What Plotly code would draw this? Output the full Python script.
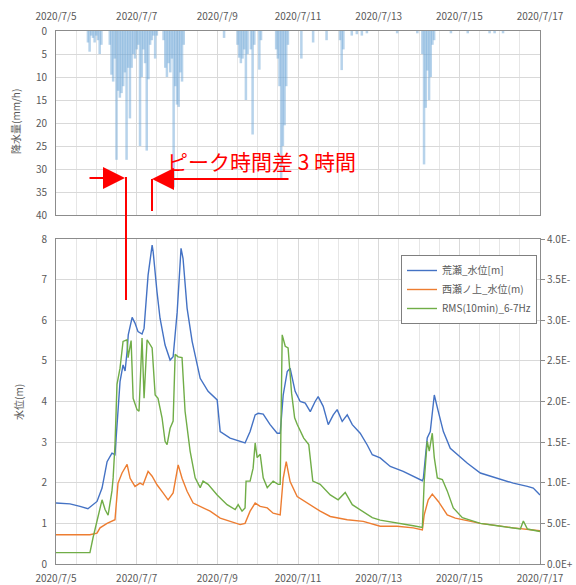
import pandas as pd
import plotly.graph_objects as go

# ---------------- data ----------------
start = "2020-07-05"
x_tick_dates = ["2020-07-05", "2020-07-07", "2020-07-09", "2020-07-11",
                "2020-07-13", "2020-07-15", "2020-07-17"]
x_tick_text = ["2020/7/5", "2020/7/7", "2020/7/9", "2020/7/11",
               "2020/7/13", "2020/7/15", "2020/7/17"]

# hourly rainfall (hours since 2020/7/5 0:00, mm/h)
rain_hours = [19, 20, 21, 22, 23, 24, 25, 26, 27,
              32, 33, 34, 35, 36, 37, 38, 39, 40, 41, 42, 43, 44, 45, 46, 47, 48,
              49, 50, 51, 52, 53, 54, 55, 56, 57, 58, 59, 60,
              64, 65, 66, 67, 68, 69, 70, 71, 72, 73, 74, 75, 76,
              100,
              108, 109, 110, 111, 112, 113, 114, 116, 117, 118, 121, 122,
              131, 132, 133, 134, 135, 136, 137, 138,
              146, 153, 161, 169, 170, 171, 176, 179, 182, 185,
              203, 215,
              218, 219, 220, 221, 222, 223, 224, 225,
              235, 245, 258, 261, 266]
rain_mm = [2.5, 4.5, 1.0, 1.5, 2.5, 1.0, 2.0, 5.0, 3.0,
           3.0, 9.5, 11.0, 6.0, 28.0, 13.0, 14.5, 13.5, 12.0, 9.0, 28.0, 8.0, 19.0, 8.0, 5.0, 6.0, 4.0,
           3.0, 25.0, 10.0, 4.0, 7.0, 26.0, 10.5, 3.0, 2.0, 1.0, 6.0, 1.0,
           2.0, 8.0, 10.0, 7.0, 9.0, 6.0, 34.0, 12.0, 16.0, 16.5, 9.0, 11.0, 3.0,
           1.5,
           3.0, 5.8, 7.0, 6.0, 4.0, 15.0, 5.0, 4.0, 22.5, 3.0, 8.4, 2.0,
           4.0, 6.0, 12.0, 32.0, 25.0, 20.5, 12.0, 3.0,
           6.0, 2.5, 2.0, 2.0, 8.5, 4.0, 1.0, 0.7, 1.0, 0.5,
           0.5, 0.5,
           5.0, 29.0, 16.7, 8.6, 15.0, 10.0, 3.0, 2.0,
           0.5, 0.5, 0.5, 0.5, 0.5]

# 荒瀬 water level [m]
arase_hours = [0, 8.3, 14.3, 19, 24.4, 27.4, 30.4, 33.3, 35.1, 36.3, 38.1, 39.9, 41.1,
               42.3, 43, 45.3, 47, 48.8, 51.2, 52.4, 54.8, 57.2, 57.8, 60.1, 61.9,
               64.9, 67.9, 69.7, 72.1, 74.4, 75.6, 78, 81, 85.8, 90.5, 95.9, 97.7,
               103.6, 109.6, 112.5, 115.5, 118.5, 120.3, 123.3, 127.4, 131.6, 133.4,
               135.2, 137.6, 139.3, 142.3, 145.3, 148.3, 151.3, 154.2, 156, 159, 162,
               165, 167.3, 170.3, 173.3, 176.3, 181, 185.2, 188.2, 192.9, 198.9,
               206.6, 212.6, 218, 218.6, 220.9, 222.7, 223.9, 225.1, 227.5, 230.5,
               234.6, 238.8, 244.8, 252.5, 262.6, 272.1, 280.5, 284, 288]
arase_level = [1.50, 1.48, 1.42, 1.36, 1.54, 1.87, 2.52, 2.73, 2.69, 3.43, 4.49, 4.90, 4.75,
               5.23, 5.64, 6.07, 5.93, 5.72, 5.66, 5.80, 7.11, 7.85, 7.69, 6.70, 6.05,
               5.39, 5.02, 5.10, 6.20, 7.77, 7.52, 6.30, 5.48, 4.57, 4.25, 4.04, 3.26,
               3.10, 3.02, 2.98, 3.26, 3.67, 3.71, 3.69, 3.43, 3.22, 3.22,
               4.16, 4.74, 4.82, 4.25, 4.00, 3.96, 3.75, 4.00, 4.12, 3.88, 3.43,
               3.67, 3.80, 3.51, 3.67, 3.43, 3.22, 2.93, 2.69, 2.61, 2.40,
               2.28, 2.16, 2.05, 2.11, 3.10, 3.26, 3.75, 4.16, 3.75, 3.26,
               2.85, 2.69, 2.48, 2.24, 2.11, 1.99, 1.91, 1.87, 1.70]

# 西瀬ノ上 water level [m]
nishise_hours = [0, 20.2, 24.4, 26.2, 30.4, 35.1, 36.9, 39.3, 42.3, 44.1, 47, 50, 51.8,
                 54.8, 57.2, 60.1, 63.7, 66.7, 69.7, 72.7, 75, 78, 81.6, 85.8, 91.7,
                 97.7, 103.6, 109.6, 112.5, 115.5, 118.5, 121.5, 125.7, 129.2, 133.4,
                 135.2, 137, 139.3, 143.5, 151.3, 157.2, 163.2, 173.3, 182.8, 192.9,
                 203, 212.6, 218, 219.1, 221.5, 223.9, 227.5, 232.8, 237.6, 252.5,
                 272.1, 288]
nishise_level = [0.72, 0.72, 0.76, 0.89, 1.00, 1.09, 1.99, 2.24, 2.45, 2.11, 1.91, 1.99, 1.95,
                 2.28, 2.16, 1.95, 1.75, 1.58, 1.75, 2.44, 2.11, 1.79, 1.50, 1.42, 1.30,
                 1.13, 1.05, 0.97, 1.00, 1.30, 1.50, 1.42, 1.38, 1.25, 1.21,
                 2.11, 2.52, 2.03, 1.66, 1.46, 1.30, 1.17, 1.09, 1.05, 0.93,
                 0.93, 0.89, 0.84, 1.21, 1.58, 1.72, 1.54, 1.21, 1.13, 1.00,
                 0.89, 0.82]

# RMS(10min)_6-7Hz (right axis, x1e-5)
rms_hours = [0, 20.2, 22, 25, 27.4, 29.2, 31, 33.3, 34, 35.1, 36.3, 38.1, 39.9, 42.3, 42.9,
             44.7, 45.9, 48.2, 49.4, 51.2, 52.4, 54.2, 57.2, 59, 60.7, 63.1, 64.9, 66.1,
             67.9, 69.7, 70.9, 72.7, 75, 76.8, 79.8, 82.8, 85.8, 87.5, 90.5, 95.9, 101.8,
             106.6, 108.4, 110.7, 112.5, 113.1, 115.5, 117.3, 118.5, 119.7, 121.5, 123.3,
             125.7, 129.2, 132.2, 133.4, 134.6, 136.4, 138.1, 140.2, 142.0, 143.5, 147.4,
             150.4, 152.8, 157.2, 163.2, 167.9, 172.1, 176.3, 182.3, 188.2, 192.9, 203,
             212.6, 218, 219.1, 220.9, 222.1, 223.9, 225.1, 226.9, 229.9, 232.8, 236.4,
             241.8, 252.5, 262.6, 276.3, 278.1, 280.5, 288]
rms_e5 = [0.14, 0.14, 0.32, 0.60, 0.79, 0.67, 0.60, 0.90, 1.06, 1.47, 2.21, 2.41, 2.74, 2.76, 2.54,
          2.75, 2.04, 1.90, 1.88, 2.78, 2.04, 2.76, 2.66, 2.08, 2.04, 1.80, 1.51, 1.47,
          1.67, 1.76, 2.58, 2.55, 2.54, 1.88, 1.39, 1.06, 0.94, 1.02, 0.98, 0.85, 0.73,
          0.67, 0.73, 0.65, 0.69, 1.02, 1.02, 1.18, 1.49, 1.31, 1.35, 1.06,
          0.94, 1.02, 0.98, 0.98, 2.82, 2.68, 2.66, 2.10, 1.80, 1.72, 1.55,
          1.47, 1.02, 0.98, 0.85, 0.79, 0.88, 0.73, 0.65, 0.57, 0.54, 0.50,
          0.47, 0.45, 1.02, 1.51, 1.39, 1.61, 1.31, 1.06, 1.04, 0.90, 0.69,
          0.57, 0.50, 0.47, 0.43, 0.53, 0.43, 0.40]

# right-axis tick labels as they appear (cut at the image edge in the original)
y2_tick_vals = [0, 0.5, 1.0, 1.5, 2.0, 2.5, 3.0, 3.5, 4.0]
y2_tick_text = ["0.0E+", "5.0E-", "1.0E-", "1.5E-", "2.0E-",
                "2.5E-", "3.0E-", "3.5E-", "4.0E-"]

series_names = ["荒瀬_水位[m]", "西瀬ノ上_水位(m)", "RMS(10min)_6-7Hz"]
series_colors = ["#4472C4", "#ED7D31", "#70AD47"]


def to_time(hours):
    return pd.Timestamp(start) + pd.to_timedelta(hours, unit="h")


# ---------------- figure ----------------
W, H = 576, 585
FONT = "Noto Sans CJK JP"
GRID = "#d9d9d9"
AXC = "#8c8c8c"
TXT = "#595959"

fig = go.Figure()

fig.add_trace(go.Bar(
    x=to_time(rain_hours), y=rain_mm, width=1.5 * 3600 * 1000,
    marker=dict(color="#6fa8d8", opacity=0.5, line=dict(width=0)),
    xaxis="x", yaxis="y", showlegend=False, name="降水量"))

fig.add_trace(go.Scatter(
    x=to_time(arase_hours), y=arase_level, mode="lines", name=series_names[0],
    line=dict(color=series_colors[0], width=1.4), xaxis="x2", yaxis="y2"))
fig.add_trace(go.Scatter(
    x=to_time(nishise_hours), y=nishise_level, mode="lines", name=series_names[1],
    line=dict(color=series_colors[1], width=1.4), xaxis="x2", yaxis="y2"))
fig.add_trace(go.Scatter(
    x=to_time(rms_hours), y=[v * 1e-5 for v in rms_e5], mode="lines", name=series_names[2],
    line=dict(color=series_colors[2], width=1.4), xaxis="x2", yaxis="y3"))

xdom = [56 / W, 540 / W]
top_dom = [1 - 215 / H, 1 - 31 / H]
bot_dom = [1 - 564 / H, 1 - 239 / H]
xrange_ = ["2020-07-05", "2020-07-17"]
tickfont = dict(family=FONT, size=10, color=TXT)

xcommon = dict(type="date", range=xrange_, tickvals=x_tick_dates, ticktext=x_tick_text,
               showgrid=True, gridcolor=GRID, gridwidth=1,
               minor=dict(dtick=12 * 3600 * 1000, showgrid=True, gridcolor="#e6e6e6", gridwidth=1),
               showline=True, linecolor=AXC, linewidth=1, mirror=True, automargin=False,
               ticks="", tickfont=tickfont, domain=xdom, zeroline=False)

fig.update_layout(
    width=W, height=H,
    margin=dict(l=0, r=0, t=0, b=0, autoexpand=False),
    paper_bgcolor="white", plot_bgcolor="white",
    font=dict(family=FONT, color=TXT),
    barmode="overlay",
    xaxis=dict(**xcommon, anchor="y", side="top", ticklabelstandoff=6),
    yaxis=dict(domain=top_dom, range=[40, 0], dtick=5, anchor="x", automargin=False,
               showgrid=True, gridcolor=GRID, showline=True, linecolor=AXC, mirror=True,
               ticks="", tickfont=tickfont, zeroline=False, ticklabelstandoff=6),
    xaxis2=dict(**xcommon, anchor="y2", side="bottom", ticklabelstandoff=5),
    yaxis2=dict(domain=bot_dom, range=[0, 8], dtick=1, anchor="x2", automargin=False,
                showgrid=True, gridcolor=GRID, showline=True, linecolor=AXC, mirror=True,
                ticks="", tickfont=tickfont, zeroline=False, ticklabelstandoff=6),
    yaxis3=dict(overlaying="y2", side="right", anchor="x2", range=[0, 4e-5], automargin=False,
                tickvals=[v * 1e-5 for v in y2_tick_vals], ticktext=y2_tick_text,
                showgrid=False, ticks="outside", ticklen=4, tickcolor=AXC,
                tickfont=tickfont, zeroline=False),
    legend=dict(x=401 / W, y=1 - 255 / H, xanchor="left", yanchor="top",
                bgcolor="white", bordercolor="#7f7f7f", borderwidth=1,
                font=dict(family=FONT, size=10, color=TXT), itemwidth=30,
                tracegroupgap=0),
)

# axis titles
fig.add_annotation(text="降水量(mm/h)", x=15 / W, y=1 - 122 / H, xref="paper", yref="paper",
                   xanchor="center", yanchor="middle",
                   textangle=-90, showarrow=False, font=dict(family=FONT, size=10, color=TXT))
fig.add_annotation(text="水位(m)", x=18 / W, y=1 - 402 / H, xref="paper", yref="paper",
                   xanchor="center", yanchor="middle",
                   textangle=-90, showarrow=False, font=dict(family=FONT, size=10, color=TXT))

# red peak-time-difference annotation
RED = "#ff0000"
fig.add_annotation(text="ピーク時間差 3 時間", x=261 / W, y=1 - 161 / H,
                   xref="paper", yref="paper", xanchor="center", yanchor="middle",
                   showarrow=False, font=dict(family=FONT, size=21, color=RED))
fig.add_annotation(text="", x=125 / W, y=1 - 178 / H, xref="paper", yref="paper",
                   ax=-37, ay=0, showarrow=True, arrowhead=2, arrowsize=2.2,
                   arrowwidth=2, arrowcolor=RED)
fig.add_annotation(text="", x=152 / W, y=1 - 179 / H, xref="paper", yref="paper",
                   ax=138, ay=0, showarrow=True, arrowhead=2, arrowsize=2.2,
                   arrowwidth=2, arrowcolor=RED)
fig.add_shape(type="line", xref="paper", yref="paper", x0=126 / W, x1=126 / W,
              y0=1 - 177 / H, y1=1 - 300 / H, line=dict(color=RED, width=2))
fig.add_shape(type="line", xref="paper", yref="paper", x0=152 / W, x1=152 / W,
              y0=1 - 179 / H, y1=1 - 211 / H, line=dict(color=RED, width=2))

fig.write_html("out.html", config={"displayModeBar": False},
               post_script="document.body.style.margin='0';")
